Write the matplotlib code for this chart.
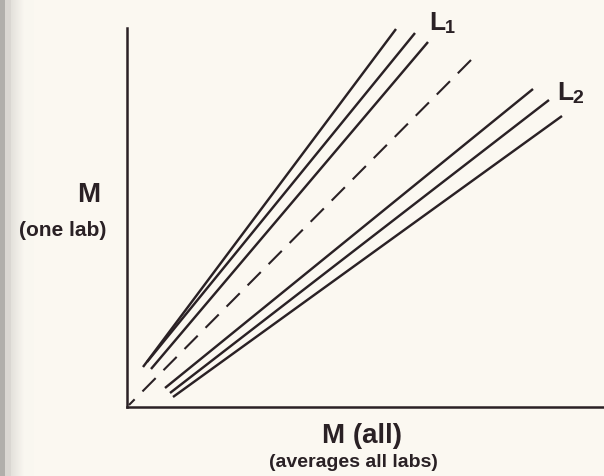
import numpy as np
import matplotlib
matplotlib.use("Agg")
import matplotlib.pyplot as plt

plt.rcParams["font.family"] = ["Liberation Sans", "DejaVu Sans"]
plt.rcParams["lines.scale_dashes"] = False

# Schematic: one lab's measurement M against the all-lab average
series_names = ["L1", "L1", "L1", "L2", "L2", "L2"]
x_start = [1.6, 2.0, 2.4, 3.8, 4.3, 4.6]
y_start = [4.0, 4.5, 3.8, 1.9, 1.4, 1.0]
x_end = [26.9, 28.8, 30.1, 40.6, 42.2, 43.5]
y_end = [37.8, 37.4, 36.5, 31.8, 30.7, 29.1]

# identity reference line (dashed), drawn from its upper end down
ref_x = [34.4, 0.2]
ref_y = [34.7, 0.2]

BG = "#fbf8f1"
INK = "#2a2125"

W, H = 604, 476
fig = plt.figure(figsize=(W / 100, H / 100), dpi=100, facecolor=BG)

# scanned page edge on the left
edge = fig.add_axes([0, 0, 34 / W, 1])
grad = np.concatenate([np.full(5, 0.70), np.full(6, 0.86),
                       np.linspace(0.90, 0.985, 14), np.full(9, 0.985)])
rgb = np.array([0.98, 0.97, 0.945])
img = np.clip(grad[None, :, None] * rgb[None, None, :] / 0.985, 0, 1)
img = np.repeat(img, 10, axis=0)
edge.imshow(img, aspect="auto", extent=[0, 1, 0, 1], interpolation="nearest")
edge.axis("off")

x0, y0, x1, y1 = 127, 407, 604, 28
ax = fig.add_axes([x0 / W, 1 - y0 / H, (x1 - x0) / W, (y0 - y1) / H])
ax.set_facecolor("none")
ax.set_xlim(0, (x1 - x0) / 10)
ax.set_ylim(0, (y0 - y1) / 10)
for side in ("top", "right"):
    ax.spines[side].set_visible(False)
for side in ("left", "bottom"):
    ax.spines[side].set_linewidth(1.8)
    ax.spines[side].set_color(INK)
ax.set_xticks([])
ax.set_yticks([])

for xs, ys, xe, ye in zip(x_start, y_start, x_end, y_end):
    ax.plot([xs, xe], [ys, ye], color=INK, lw=1.75, solid_capstyle="butt", clip_on=False)

ax.plot(ref_x, ref_y, color=INK, lw=1.5, dashes=(13.5, 8), clip_on=False)

# line-group labels
ax.text(30.2, 37.7, "L", fontsize=19, fontweight="bold", color=INK, ha="left", va="baseline")
ax.text(31.8, 37.4, "1", fontsize=13, fontweight="bold", color=INK, ha="left", va="baseline")
ax.text(43.0, 30.7, "L", fontsize=19, fontweight="bold", color=INK, ha="left", va="baseline")
ax.text(44.5, 30.4, "2", fontsize=14, fontweight="bold", color=INK, ha="left", va="baseline")

# axis titles
fig.text(88.5 / W, 1 - 202 / H, "M", fontsize=20, fontweight="bold", color=INK,
         ha="center", va="baseline")
fig.text(63 / W, 1 - 236 / H, "(one lab)", fontsize=15, fontweight="bold", color=INK,
         ha="center", va="baseline")
fig.text(362 / W, 1 - 443 / H, "M (all)", fontsize=20, fontweight="bold", color=INK,
         ha="center", va="baseline")
fig.text(353 / W, 1 - 467 / H, "(averages all labs)", fontsize=14, fontweight="bold",
         color=INK, ha="center", va="baseline")

fig.savefig("out.png", dpi=100, facecolor=BG)
